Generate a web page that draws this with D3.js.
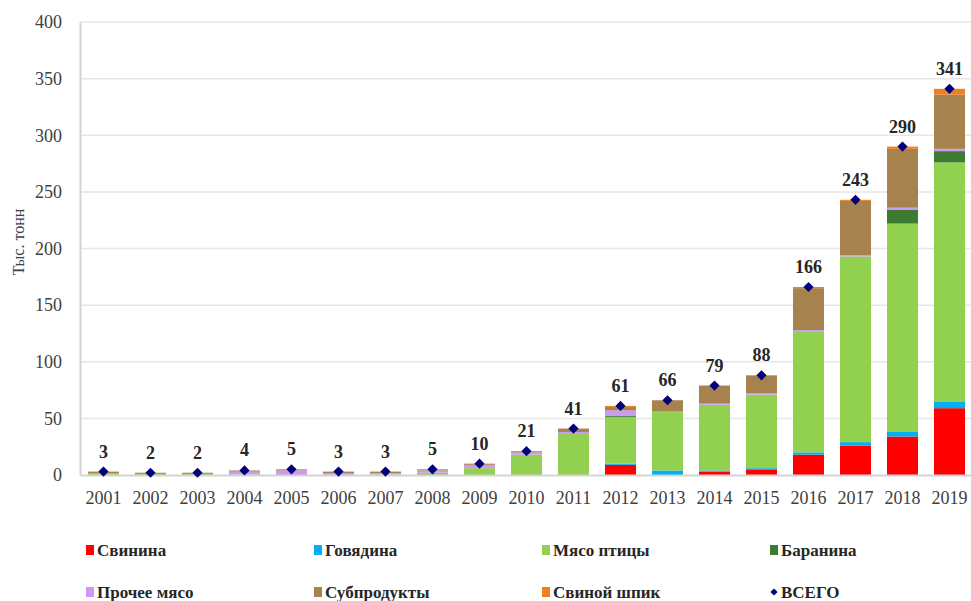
<!DOCTYPE html>
<html>
<head>
<meta charset="utf-8">
<script src="https://cdn.jsdelivr.net/npm/d3@7"></script>
<style>
  body { margin: 0; background: #fff; }
  svg { display: block; font-family: "Liberation Serif", "Times New Roman", serif; }
</style>
</head>
<body>
<script>
// years and stacked series (тыс. тонн)
const years = ["2001","2002","2003","2004","2005","2006","2007","2008","2009","2010",
               "2011","2012","2013","2014","2015","2016","2017","2018","2019"];
const pork    = [0, 0, 0, 0, 0, 0, 0, 0, 0, 0, 0, 9, 0, 3, 5, 18, 26, 34, 59];
const beef    = [0, 0, 0, 0, 0, 0, 0, 0, 0, 0, 0, 1, 4, 1, 1, 2, 3, 4, 6];
const poultry = [1.5, 1, 1, 0.5, 0, 0, 0.5, 2, 6, 18, 37, 41, 52, 58, 65, 107, 164, 184, 211];
const mutton  = [0, 0, 0, 0, 0, 0, 0, 0, 0, 0, 0, 1, 0, 0, 0, 0, 0, 12, 10];
const other   = [0, 0, 0, 2.5, 4, 1.5, 1, 2, 3, 2, 1, 5, 0, 1, 1, 1, 1, 2, 2];
const offal   = [1.5, 1, 1, 1, 1, 1.5, 1.5, 1, 1, 1, 3, 3, 10, 16, 16, 37, 48, 52, 48];
const fat     = [0, 0, 0, 0, 0, 0, 0, 0, 0, 0, 0, 1, 0, 0, 0, 1, 1, 2, 5];
const totals  = [3, 2, 2, 4, 5, 3, 3, 5, 10, 21, 41, 61, 66, 79, 88, 166, 243, 290, 341];

const seriesNames  = ["Свинина", "Говядина", "Мясо птицы", "Баранина", "Прочее мясо", "Субпродукты", "Свиной шпик"];
const seriesValues = [pork, beef, poultry, mutton, other, offal, fat];
const seriesColors = ["#ff0000", "#00b0f0", "#92d050", "#3d7a32", "#cc99f5", "#a6824f", "#f0801e"];
const yTicks = [0, 50, 100, 150, 200, 250, 300, 350, 400];

const width = 971, height = 601;
const svg = d3.select("body").append("svg")
  .attr("width", width)
  .attr("height", height);

const x = d3.scaleBand()
  .domain(years)
  .range([80, 973])
  .paddingInner(0.34)
  .paddingOuter(0.17);

const y = d3.scaleLinear()
  .domain([0, 400])
  .range([475, 22]);

// gridlines
svg.append("g")
  .selectAll("line")
  .data(yTicks.filter(d => d > 0))
  .join("line")
    .attr("x1", 80).attr("x2", 973)
    .attr("y1", d => y(d)).attr("y2", d => y(d))
    .attr("stroke", "#e6e6e6")
    .attr("stroke-width", 1.5);

// y axis
const yAxis = svg.append("g")
  .attr("transform", "translate(80,0)")
  .call(d3.axisLeft(y).tickValues(yTicks).tickSize(0).tickPadding(18));
yAxis.select(".domain").attr("stroke", "#d4d4d4").attr("stroke-width", 2);
yAxis.selectAll("text")
  .attr("font-size", 18)
  .attr("fill", "#404040")
  .attr("font-family", "Liberation Serif");

// y title
svg.append("text")
  .attr("transform", "translate(24,242) rotate(-90)")
  .attr("text-anchor", "middle")
  .attr("font-size", 16)
  .attr("fill", "#404040")
  .text("Тыс.  тонн");

// stacked data
const rows = years.map((yr, i) => {
  const r = { year: yr };
  seriesNames.forEach((n, k) => { r[n] = seriesValues[k][i]; });
  return r;
});
const stacked = d3.stack().keys(seriesNames)(rows);

svg.append("g")
  .selectAll("g")
  .data(stacked)
  .join("g")
    .attr("fill", (d, k) => seriesColors[k])
  .selectAll("rect")
  .data(d => d)
  .join("rect")
    .attr("x", d => x(d.data.year))
    .attr("width", x.bandwidth())
    .attr("y", d => y(d[1]))
    .attr("height", d => y(d[0]) - y(d[1]));

// x axis
const xAxis = svg.append("g")
  .attr("transform", "translate(0,475)")
  .call(d3.axisBottom(x).tickSize(0).tickPadding(16));
xAxis.select(".domain").attr("stroke", "#d4d4d4").attr("stroke-width", 2);
xAxis.selectAll("text")
  .attr("font-size", 18)
  .attr("fill", "#404040")
  .attr("font-family", "Liberation Serif");

// totals (square rotated 45deg = even diamond)
const diamond = d3.symbol(d3.symbolSquare, 52);
svg.append("g")
  .selectAll("path")
  .data(totals)
  .join("path")
    .attr("d", diamond)
    .attr("transform", (d, i) => `translate(${x(years[i]) + x.bandwidth() / 2},${y(d)}) rotate(45)`)
    .attr("fill", "#00007a");

svg.append("g")
  .selectAll("text")
  .data(totals)
  .join("text")
    .attr("x", (d, i) => x(years[i]) + x.bandwidth() / 2)
    .attr("y", d => y(d) - 14)
    .attr("text-anchor", "middle")
    .attr("font-size", 18)
    .attr("font-weight", "bold")
    .attr("fill", "#262626")
    .text(d => d);

// legend
const legendItems = [
  ["Свинина", seriesColors[0], "rect"], ["Говядина", seriesColors[1], "rect"],
  ["Мясо птицы", seriesColors[2], "rect"], ["Баранина", seriesColors[3], "rect"],
  ["Прочее мясо", seriesColors[4], "rect"], ["Субпродукты", seriesColors[5], "rect"],
  ["Свиной шпик", seriesColors[6], "rect"], ["ВСЕГО", "#00007a", "diamond"]
];
const legend = svg.append("g")
  .selectAll("g")
  .data(legendItems)
  .join("g")
    .attr("transform", (d, i) => `translate(${90 + (i % 4) * 228},${i < 4 ? 550 : 592})`);
legend.filter(d => d[2] === "rect").append("rect")
  .attr("x", -4).attr("y", -5).attr("width", 8).attr("height", 10)
  .attr("fill", d => d[1]);
legend.filter(d => d[2] === "diamond").append("path")
  .attr("d", d3.symbol(d3.symbolSquare, 26))
  .attr("transform", "rotate(45)")
  .attr("fill", d => d[1]);
legend.append("text")
  .attr("x", 7)
  .attr("dy", "0.35em")
  .attr("font-size", 17)
  .attr("font-weight", "bold")
  .attr("fill", "#262626")
  .text(d => d[0]);
</script>
</body>
</html>
